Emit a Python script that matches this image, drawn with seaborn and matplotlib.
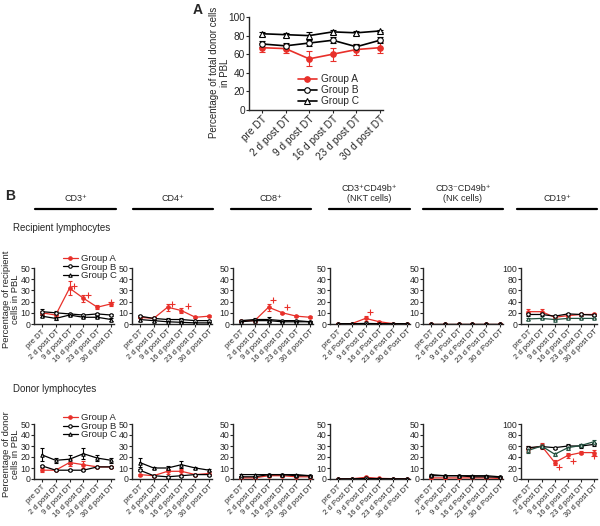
import matplotlib
matplotlib.use("Agg")
import matplotlib.pyplot as plt
import numpy as np
import seaborn as sns

# ─── Data ─────────────────────────────────────────────────────────────────────

groups = ["Group A", "Group B", "Group C"]
times_lower = ["pre DT", "2 d post DT", "9 d post DT", "16 d post DT", "23 d post DT", "30 d post DT"]
times_upper = ["pre DT", "2 d Post DT", "9 d Post DT", "16 d Post DT", "23 d Post DT", "30 d Post DT"]
headers = ["CD3\u207a", "CD4\u207a", "CD8\u207a",
           "CD3\u207aCD49b\u207a\n(NKT cells)", "CD3\u207bCD49b\u207a\n(NK cells)", "CD19\u207a"]

# panel A: percentage of total donor cells
a_mean = {"Group A": [67, 66, 55, 60, 65, 67],
          "Group B": [71, 69, 72, 75, 68, 75],
          "Group C": [82, 81, 80, 84, 83, 85]}
a_err = {"Group A": [5, 5, 8, 7, 6, 6],
         "Group B": [3, 3, 3, 3, 3, 3],
         "Group C": [2, 2, 4, 2, 2, 1]}

# panel B, recipient lymphocytes
rec_cd3 = {"Group A": [10, 8, 32, 23, 15, 18], "Group B": [11, 10, 9, 8, 9, 8], "Group C": [7, 5, 8, 6, 6, 4]}
rec_cd3_err = {"Group A": [2, 2, 6, 3, 2, 2], "Group B": [2, 2, 1, 1, 1, 1], "Group C": [1, 1, 1, 1, 1, 1]}
rec_cd4 = {"Group A": [6, 5, 15, 12, 6, 7], "Group B": [7, 5, 4, 4, 3, 3], "Group C": [4, 3, 2, 1.5, 1, 1]}
rec_cd4_err = {"Group A": [1, 1, 3, 2, 1, 1], "Group B": [1, 1, 1, 1, 1, 1], "Group C": [1, 1, 0.5, 0.5, 0.5, 0.5]}
rec_cd8 = {"Group A": [3, 3, 15, 10, 7, 6], "Group B": [3, 4, 4, 3, 3, 2], "Group C": [2, 3, 3, 2, 2, 2]}
rec_cd8_err = {"Group A": [1, 1, 3, 1, 1, 1], "Group B": [1, 1, 2, 1, 1, 1], "Group C": [0.5, 0.5, 1, 0.5, 0.5, 0.5]}
rec_nkt = {"Group A": [0.3, 0.3, 5, 2, 0.3, 0.3], "Group B": [0.3, 0.3, 0.5, 0.3, 0.3, 0.3], "Group C": [0.2, 0.2, 0.2, 0.2, 0.2, 0.2]}
rec_nkt_err = {"Group A": [0.2, 0.2, 2, 1, 0.2, 0.2], "Group B": [0.2] * 6, "Group C": [0.1] * 6}
rec_nk = {"Group A": [0.4] * 6, "Group B": [0.3] * 6, "Group C": [0.2] * 6}
rec_nk_err = {"Group A": [0.2] * 6, "Group B": [0.1] * 6, "Group C": [0.1] * 6}
rec_cd19 = {"Group A": [22, 22, 12, 15, 17, 17], "Group B": [17, 17, 14, 18, 17, 16], "Group C": [9, 10, 8, 10, 10, 10]}
rec_cd19_err = {"Group A": [5, 4, 2, 2, 2, 2], "Group B": [2, 2, 2, 2, 2, 2], "Group C": [1, 1, 1, 1, 1, 1]}

# panel B, donor lymphocytes
don_cd3 = {"Group A": [8, 8, 15, 13, 11, 11], "Group B": [12, 8, 8, 8, 11, 11], "Group C": [22, 17, 18, 23, 19, 17]}
don_cd3_err = {"Group A": [2, 1, 3, 3, 1, 1], "Group B": [1, 1, 1, 1, 1, 1], "Group C": [6, 2, 4, 5, 3, 2]}
don_cd4 = {"Group A": [4, 3, 7, 7, 4, 5], "Group B": [8, 3, 2, 3, 4, 4], "Group C": [15, 10, 10, 13, 10, 8]}
don_cd4_err = {"Group A": [1, 1, 2, 2, 1, 1], "Group B": [1, 1, 1, 1, 1, 1], "Group C": [4, 1, 2, 3, 1, 1]}
don_cd8 = {"Group A": [1, 1, 3, 3, 2, 2], "Group B": [2, 2, 4, 4, 3, 3], "Group C": [4, 4, 4, 4, 4, 3]}
don_cd8_err = {"Group A": [0.5] * 6, "Group B": [0.5] * 6, "Group C": [1, 1, 1, 1, 1, 1]}
don_nkt = {"Group A": [0.2, 0.2, 1.5, 0.6, 0.3, 0.3], "Group B": [0.2, 0.2, 0.5, 0.3, 0.2, 0.2], "Group C": [0.1] * 6}
don_nkt_err = {"Group A": [0.1, 0.1, 0.8, 0.3, 0.1, 0.1], "Group B": [0.1] * 6, "Group C": [0.1] * 6}
don_nk = {"Group A": [1, 1, 1, 1, 1, 0.5], "Group B": [3, 3, 3, 2, 2, 1.5], "Group C": [4, 3, 3, 3, 3, 2]}
don_nk_err = {"Group A": [0.3] * 6, "Group B": [0.5] * 6, "Group C": [1, 1, 1, 0.5, 0.5, 0.5]}
don_cd19 = {"Group A": [55, 60, 30, 43, 48, 48], "Group B": [57, 59, 57, 60, 60, 63], "Group C": [52, 60, 45, 57, 61, 68]}
don_cd19_err = {"Group A": [5, 5, 4, 4, 3, 5], "Group B": [3, 3, 2, 3, 3, 3], "Group C": [4, 4, 3, 4, 3, 3]}

# significance markers (x index, y value) per panel
rec_sig = [[(2.35, 34), (3.35, 26), (5.0, 20)], [(2.35, 18), (3.5, 16)], [(2.35, 21), (3.35, 15)],
           [(2.35, 11)], [], []]
don_sig = [[], [], [], [], [], [(2.35, 22), (3.35, 33), (5.0, 41)]]

rec_panels = [rec_cd3, rec_cd4, rec_cd8, rec_nkt, rec_nk, rec_cd19]
rec_errs = [rec_cd3_err, rec_cd4_err, rec_cd8_err, rec_nkt_err, rec_nk_err, rec_cd19_err]
don_panels = [don_cd3, don_cd4, don_cd8, don_nkt, don_nk, don_cd19]
don_errs = [don_cd3_err, don_cd4_err, don_cd8_err, don_nkt_err, don_nk_err, don_cd19_err]

# ─── Style ────────────────────────────────────────────────────────────────────

sns.set_style("ticks")
plt.rcParams["font.family"] = ["Liberation Sans", "DejaVu Sans"]
plt.rcParams["axes.linewidth"] = 1.0

RED = "#e8302a"
style = {"Group A": dict(color=RED, marker="o", mfc=RED, mec=RED),
         "Group B": dict(color="black", marker="o", mfc="white", mec="black"),
         "Group C": dict(color="black", marker="^", mfc="white", mec="black")}

W, H = 600, 526
fig = plt.figure(figsize=(6.0, 5.26), dpi=100)


def px_axes(left, top, right, bottom):
    return fig.add_axes([left / W, 1 - bottom / H, (right - left) / W, (bottom - top) / H])


def draw(ax, means, errs, labels, ylim, yticks, ms, lw, xfs, yfs, cap, colors=None):
    x = np.arange(len(labels))
    for g in groups:
        st = dict(style[g])
        if colors and g in colors:
            st["color"] = colors[g]
            st["mec"] = colors[g]
        ax.errorbar(x, means[g], yerr=errs[g], fmt="none", ecolor=st["color"],
                    elinewidth=0.8, capsize=cap, capthick=0.8, zorder=2)
        sns.lineplot(x=x, y=means[g], ax=ax, color=st["color"], lw=lw, marker=st["marker"],
                     markersize=ms, markerfacecolor=st["mfc"], markeredgecolor=st["mec"],
                     markeredgewidth=0.8, label=g, zorder=3)
    if ax.get_legend() is not None:
        ax.get_legend().remove()
    ax.set_ylim(*ylim)
    ax.set_yticks(yticks)
    ax.set_xlim(-0.56, 5.2)
    ax.set_xticks(x)
    ax.set_xticklabels(labels, rotation=45, ha="right", rotation_mode="anchor", fontsize=xfs)
    ax.tick_params(axis="y", labelsize=yfs, length=2, width=0.8, pad=0.8)
    ax.tick_params(axis="x", length=2, width=0.8, pad=1)
    sns.despine(ax=ax)


# ─── Panel A ──────────────────────────────────────────────────────────────────

axA = px_axes(249, 17, 383, 110)
draw(axA, a_mean, a_err, times_lower, (0, 100), [0, 20, 40, 60, 80, 100], 4, 1.2, 7.3, 7.3, 2)
axA.set_xlim(-0.55, 5.13)
axA.set_ylabel("Percentage of total donor cells\nin PBL", fontsize=7, linespacing=1.05)
axA.yaxis.set_label_coords(-0.145, 0.4)
axA.legend(loc="upper left", bbox_to_anchor=(0.33, 0.44), frameon=False, fontsize=7.3,
           handlelength=1.8, borderpad=0, labelspacing=0.1, handletextpad=0.4)
fig.text(193 / W, 1 - 14 / H, "A", fontsize=10, fontweight="bold")

# ─── Panel B ──────────────────────────────────────────────────────────────────

fig.text(5 / W, 1 - 200 / H, "B", fontsize=10, fontweight="bold")
lefts = [34, 132, 233, 330, 423, 521]
line_spans = [(35, 116), (133, 213), (231, 311), (329, 410), (423, 503), (517, 597)]
for (x0, x1), head in zip(line_spans, headers):
    fig.add_artist(plt.Line2D([x0 / W, x1 / W], [1 - 209 / H, 1 - 209 / H], color="black", lw=1.6))
    fig.text((x0 + x1) / 2 / W, 1 - 203 / H, head, ha="center", va="bottom", fontsize=6.5,
             linespacing=1.1)

fig.text(13 / W, 1 - 231 / H, "Recipient lymphocytes", fontsize=7)
fig.text(13 / W, 1 - 392 / H, "Donor lymphocytes", fontsize=7)

for row, (panels, errs, sigs, top, bottom) in enumerate(
        [(rec_panels, rec_errs, rec_sig, 268, 324), (don_panels, don_errs, don_sig, 424, 479)]):
    for i, left in enumerate(lefts):
        right = 597 if i == 5 else left + 80
        ax = px_axes(left, top, right, bottom)
        labels = times_upper if i in (3, 4) else times_lower
        if i == 5:
            ylim, yticks = (0, 100), [0, 20, 40, 60, 80, 100]
            colors = {"Group C": "#22503f"}
        else:
            ylim, yticks = (0, 50), [0, 10, 20, 30, 40, 50]
            colors = None
        draw(ax, panels[i], errs[i], labels, ylim, yticks, 2.5, 0.9, 5.5, 6.3, 1.2, colors)
        if sigs[i]:
            sx, sy = zip(*sigs[i])
            ax.scatter(sx, sy, marker="+", color=RED, s=14, linewidths=0.8, zorder=4)
        if i == 0:
            ylab = ("Percentage of recipient\ncells in PBL" if row == 0
                    else "Percentage of donor\ncells in PBL")
            ax.set_ylabel(ylab, fontsize=6.8, linespacing=1.05)
            ax.yaxis.set_label_coords(-0.17, 0.45)
            ax.legend(loc="upper left", bbox_to_anchor=(0.3, 1.33 if row == 0 else 1.28),
                      frameon=False, fontsize=6.8, handlelength=1.6, borderpad=0,
                      labelspacing=-0.05, handletextpad=0.3)

fig.savefig("out.png", dpi=100)
